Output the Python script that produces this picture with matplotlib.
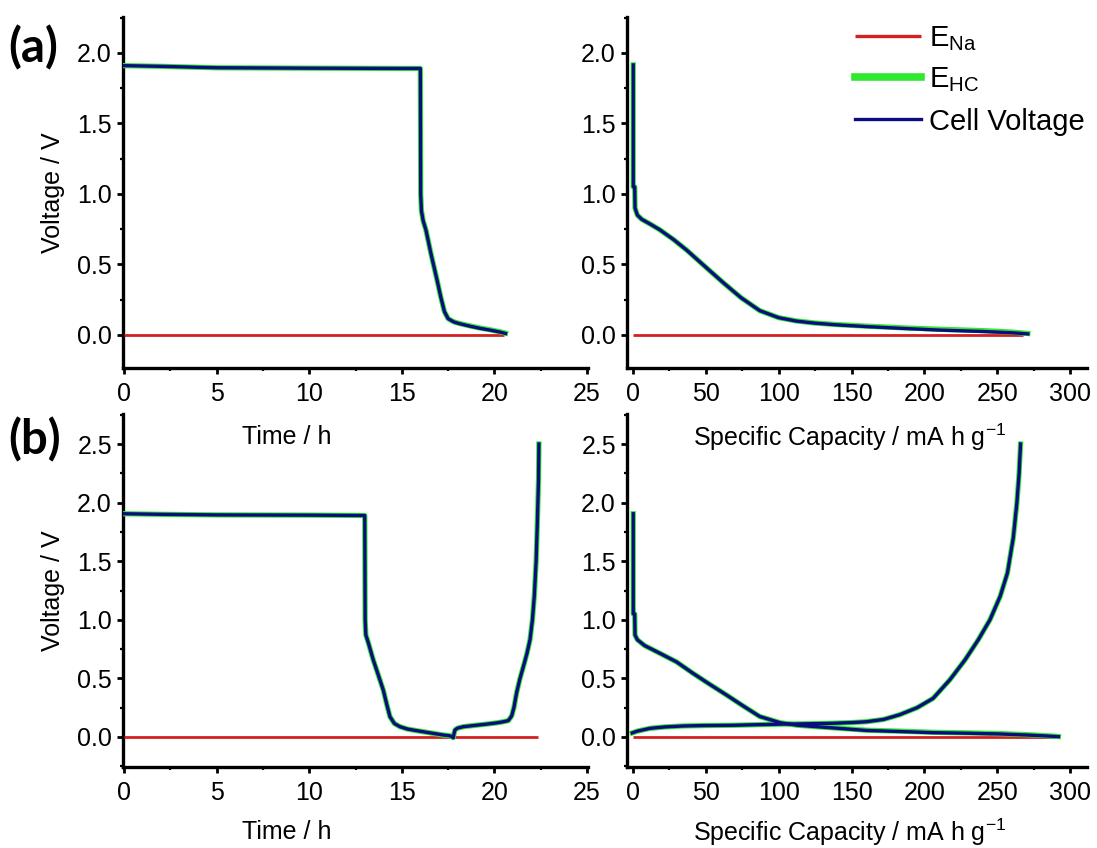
import matplotlib
matplotlib.use("Agg")
import matplotlib.pyplot as plt
from matplotlib.ticker import MultipleLocator, FormatStrFormatter

plt.rcParams['font.family'] = ['Liberation Sans', 'DejaVu Sans']
plt.rcParams['mathtext.fontset'] = 'custom'
plt.rcParams['mathtext.rm'] = 'Liberation Sans'
plt.rcParams['mathtext.it'] = 'Liberation Sans:italic'

# ---------------- data ----------------
# (a) time plot
a_time = [0, 2, 5, 10, 15, 16.0, 16.02, 16.06, 16.15, 16.3, 16.6, 16.9, 17.1, 17.3,
          17.5, 17.8, 18.1, 18.6, 19.2, 19.8, 20.3, 20.6]
a_time_cell = [1.91, 1.905, 1.895, 1.892, 1.89, 1.89, 1.0, 0.88, 0.81, 0.745, 0.56, 0.39,
               0.27, 0.165, 0.115, 0.092, 0.08, 0.064, 0.047, 0.033, 0.02, 0.01]
a_time_hc = [1.91, 1.905, 1.895, 1.892, 1.89, 1.89, 1.0, 0.88, 0.81, 0.745, 0.56, 0.39,
             0.27, 0.165, 0.115, 0.093, 0.081, 0.066, 0.049, 0.035, 0.022, 0.012]
a_time_na_x = [0, 20.5]
a_time_na = [0.0, 0.0]

# (a) capacity plot
a_cap = [0.2, 0.2, 1.2, 1.4, 3, 6, 12, 18.5, 28, 37, 50, 62, 74, 87, 100, 112, 125,
         140, 160, 185, 210, 240, 260, 271]
a_cap_cell = [1.915, 1.05, 1.05, 0.9, 0.85, 0.82, 0.785, 0.745, 0.675, 0.6, 0.48, 0.37,
              0.265, 0.172, 0.122, 0.098, 0.083, 0.071, 0.059, 0.046, 0.034, 0.024, 0.015, 0.007]
a_cap_hc = [1.915, 1.05, 1.05, 0.9, 0.85, 0.82, 0.785, 0.745, 0.675, 0.6, 0.48, 0.37,
            0.265, 0.172, 0.122, 0.099, 0.084, 0.073, 0.062, 0.05, 0.04, 0.03, 0.02, 0.01]
a_cap_na_x = [0, 268]
a_cap_na = [0.0, 0.0]

# (b) time plot
b_time = [0, 2, 5, 10, 12.9, 13.0, 13.02, 13.06, 13.2, 13.46, 13.75, 14.0, 14.2, 14.36,
          14.6, 14.9, 15.3, 15.8, 16.5, 17.24, 17.6, 17.78, 17.82, 17.87, 18.0, 18.32,
          19.0, 19.58, 20.1, 20.48, 20.75, 20.93, 21.05, 21.2, 21.38, 21.56, 21.75,
          21.92, 22.05, 22.15, 22.25, 22.32, 22.38, 22.4]
b_time_cell = [1.905, 1.9, 1.895, 1.893, 1.89, 1.89, 1.0, 0.87, 0.8, 0.657, 0.52, 0.40,
               0.27, 0.173, 0.115, 0.088, 0.068, 0.054, 0.036, 0.017, 0.01, -0.006, 0.03,
               0.06, 0.075, 0.088, 0.1, 0.11, 0.12, 0.13, 0.14, 0.18, 0.25, 0.38, 0.50,
               0.60, 0.71, 0.83, 1.0, 1.2, 1.5, 1.85, 2.2, 2.5]
b_time_hc = [1.905, 1.9, 1.895, 1.893, 1.89, 1.89, 1.0, 0.87, 0.8, 0.657, 0.52, 0.40,
             0.27, 0.173, 0.115, 0.088, 0.068, 0.054, 0.036, 0.017, 0.01, -0.006, 0.03,
             0.06, 0.075, 0.088, 0.1, 0.11, 0.12, 0.13, 0.14, 0.18, 0.25, 0.38, 0.50,
             0.60, 0.71, 0.83, 1.0, 1.2, 1.5, 1.85, 2.2, 2.5]
b_time_na_x = [0, 22.35]
b_time_na = [0.0, 0.0]

# (b) capacity plot - discharge
b_dis_cap = [0.2, 0.2, 1.2, 1.4, 3, 8, 18.5, 30, 41, 52, 64, 75, 87, 101, 113, 126, 140,
             160, 185, 206, 230, 252, 272, 285, 292]
b_dis_cell = [1.905, 1.05, 1.05, 0.87, 0.83, 0.78, 0.714, 0.64, 0.545, 0.455, 0.36, 0.27,
              0.175, 0.122, 0.1, 0.088, 0.075, 0.056, 0.046, 0.037, 0.032, 0.026, 0.016,
              0.008, 0.003]
b_dis_hc = [1.905, 1.05, 1.05, 0.87, 0.83, 0.78, 0.714, 0.64, 0.545, 0.455, 0.36, 0.27,
            0.175, 0.122, 0.1, 0.088, 0.076, 0.058, 0.049, 0.04, 0.035, 0.029, 0.019,
            0.01, 0.004]
# (b) capacity plot - charge
b_chg_cap = [-0.5, 3, 11.7, 22, 34.5, 50, 68.8, 85, 103, 120, 137, 150, 160, 172, 183,
             195, 206, 217.6, 228, 237, 245, 252, 257, 261, 263.5, 265, 266]
b_chg_cell = [0.035, 0.05, 0.074, 0.086, 0.094, 0.098, 0.10, 0.105, 0.11, 0.113, 0.117,
              0.123, 0.13, 0.15, 0.19, 0.25, 0.33, 0.49, 0.66, 0.83, 1.0, 1.2, 1.4, 1.7,
              2.0, 2.25, 2.5]
b_chg_hc = [0.035, 0.05, 0.074, 0.086, 0.094, 0.098, 0.10, 0.105, 0.11, 0.113, 0.117,
            0.123, 0.13, 0.15, 0.19, 0.25, 0.33, 0.49, 0.66, 0.83, 1.0, 1.2, 1.4, 1.7,
            2.0, 2.25, 2.5]
b_cap_na_x = [0, 290]
b_cap_na = [0.0, 0.0]

legend_labels = [r'E$_{\mathregular{Na}}$', r'E$_{\mathregular{HC}}$', 'Cell Voltage']
x_time_label = 'Time / h'
x_cap_label = r'Specific Capacity / mA h g$^{\mathregular{-1}}$'
y_label = 'Voltage / V'

RED = '#d42020'
GREEN = '#30e830'
NAVY = '#0c0c80'

W, H = 1097, 848
fig = plt.figure(figsize=(W / 100, H / 100), dpi=100)


def px_axes(l, r, t, b):
    ax = fig.add_axes([l / W, 1 - b / H, (r - l) / W, (b - t) / H])
    ax.patch.set_visible(False)
    return ax


boxes = {'a1': (123, 588, 17, 368), 'a2': (627, 1087, 17, 368),
         'b1': (123, 588, 414, 767), 'b2': (627, 1087, 414, 767)}
ax_a1 = px_axes(*boxes['a1'])
ax_a2 = px_axes(*boxes['a2'])
ax_b1 = px_axes(*boxes['b1'])
ax_b2 = px_axes(*boxes['b2'])


def style(ax, box, xmaj, xmin, ylim, xlim, xlabel, label_cx, label_base):
    l, r, t, b = box
    for s in ['top', 'right']:
        ax.spines[s].set_visible(False)
    for s in ['left', 'bottom']:
        ax.spines[s].set_linewidth(2.4)
    ax.set_xlim(*xlim)
    ax.set_ylim(*ylim)
    ax.xaxis.set_major_locator(MultipleLocator(xmaj))
    ax.xaxis.set_minor_locator(MultipleLocator(xmin))
    ax.yaxis.set_major_locator(MultipleLocator(0.5))
    ax.yaxis.set_minor_locator(MultipleLocator(0.25))
    ax.yaxis.set_major_formatter(FormatStrFormatter('%.1f'))
    ax.tick_params(which='major', direction='out', length=4, width=2.0,
                   labelsize=18, pad=4, colors='black')
    ax.tick_params(axis='x', which='major', pad=6)
    ax.tick_params(which='minor', direction='out', length=2.5, width=1.6)
    ax.set_xlabel(xlabel, fontsize=18)
    ax.xaxis.set_label_coords((label_cx - l) / (r - l), (b - label_base) / (b - t))
    ax.xaxis.label.set_verticalalignment('baseline')


def draw(ax, x_na, y_na, x, y_hc, y_cell):
    l1, = ax.plot(x_na, y_na, color=RED, lw=2.0, zorder=3, solid_capstyle='butt')
    l2, = ax.plot(x, y_hc, color=GREEN, lw=3.8, zorder=4)
    l3, = ax.plot(x, y_cell, color=NAVY, lw=2.4, zorder=5)
    return l1, l2, l3


draw(ax_a1, a_time_na_x, a_time_na, a_time, a_time_hc, a_time_cell)
h = draw(ax_a2, a_cap_na_x, a_cap_na, a_cap, a_cap_hc, a_cap_cell)
draw(ax_b1, b_time_na_x, b_time_na, b_time, b_time_hc, b_time_cell)
draw(ax_b2, b_cap_na_x, b_cap_na, b_dis_cap, b_dis_hc, b_dis_cell)
ax_b2.plot(b_chg_cap, b_chg_hc, color=GREEN, lw=3.8, zorder=4)
ax_b2.plot(b_chg_cap, b_chg_cell, color=NAVY, lw=2.4, zorder=5)

style(ax_a1, boxes['a1'], 5, 2.5, (-0.235, 2.255), (-0.05, 25.05), x_time_label, 287, 444)
style(ax_a2, boxes['a2'], 50, 25, (-0.235, 2.255), (-4.1, 311.6), x_cap_label, 850, 446)
style(ax_b1, boxes['b1'], 5, 2.5, (-0.256, 2.756), (-0.05, 25.05), x_time_label, 287, 839)
style(ax_b2, boxes['b2'], 50, 25, (-0.256, 2.756), (-4.1, 311.6), x_cap_label, 850, 841)

ax_a1.set_ylabel(y_label, fontsize=18, labelpad=9)
ax_b1.set_ylabel(y_label, fontsize=18, labelpad=9)

leg = ax_a2.legend(h, legend_labels, loc='upper right', bbox_to_anchor=(1.02, 1.014),
                   frameon=False, fontsize=21, handlelength=2.25, handletextpad=0.28,
                   labelspacing=0.45, borderaxespad=0.0)
leg.get_lines()[0].set_linewidth(2.4)
leg.get_lines()[1].set_linewidth(5.5)
leg.get_lines()[2].set_linewidth(2.4)

fig.text(8 / W, 1 - 48 / H, '(a)', fontsize=34, fontweight='bold', family='Lato',
         va='center', ha='left')
fig.text(8 / W, 1 - 440 / H, '(b)', fontsize=34, fontweight='bold', family='Lato',
         va='center', ha='left')

fig.savefig('out.png', dpi=100)
